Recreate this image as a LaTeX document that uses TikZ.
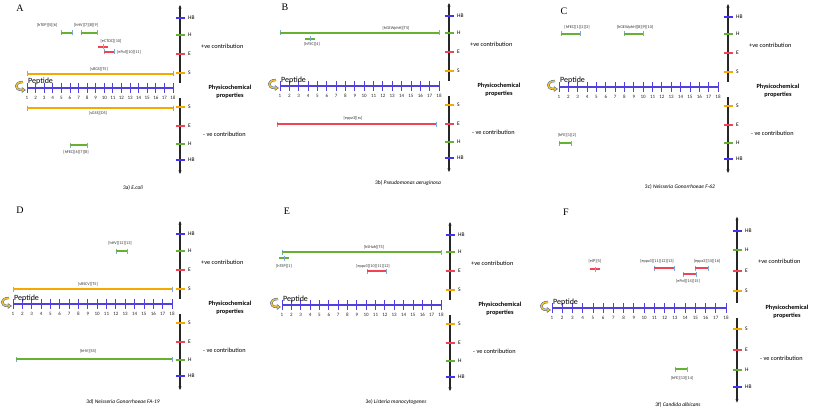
\documentclass[tikz,border=0pt]{standalone}
\usepackage{fontspec}
\setmainfont{Carlito}
\newfontfamily\letterfont{Liberation Serif}
\usetikzlibrary{arrows.meta}

\definecolor{hbcol}{HTML}{4433EE}
\definecolor{hcol}{HTML}{66B032}
\definecolor{ecol}{HTML}{F04455}
\definecolor{scol}{HTML}{F5A800}
\definecolor{pepcol}{HTML}{5040E0}
\definecolor{capcol}{HTML}{7FA8D8}
\definecolor{curlyel}{HTML}{F2C230}
\definecolor{curlblu}{HTML}{3A5FA8}

\tikzset{
  pepaxis/.style={draw=pepcol, line width=1.5pt},
  peptick/.style={draw=pepcol, line width=0.8pt},
  resnum/.style={font=\fontsize{5}{6}\selectfont, text=black!85, inner sep=0pt},
  pepname/.style={font=\fontsize{8}{9}\selectfont, anchor=base west, inner sep=0pt},
  curlarrow/.style={draw=curlblu, line width=0.45pt, double=curlyel, double distance=1.4pt},
  curlhead/.style={draw=curlblu, fill=curlyel, line width=0.4pt},
  propaxis/.style={draw=black!85, line width=1.2pt, -{Stealth[length=3.5pt,width=3pt]}},
  proptick/.style={line width=1.6pt},
  proplab/.style={font=\fontsize{5.5}{6}\selectfont, anchor=west, inner sep=0pt},
  contrib/.style={font=\fontsize{6.3}{7}\selectfont, anchor=west, inner sep=0pt},
  physlab/.style={font=\bfseries\fontsize{6.3}{7.8}\selectfont, align=center, inner sep=0pt},
  rangebar/.style={line width=1.2pt},
  barcap/.style={draw=capcol, line width=0.5pt},
  barlab/.style={font=\fontsize{4.2}{5}\selectfont, text=black!80, inner sep=0pt},
  panellab/.style={font=\letterfont\fontsize{10}{11}\selectfont, inner sep=0pt},
  capt/.style={font=\fontsize{5.5}{6.5}\selectfont, inner sep=0pt}
}

% one panel: name, x of residue 1, y of peptide axis, residue spacing, x of property axis, vertical stretch
\newcommand{\panel}[6]{%
  \begin{scope}[shift={(#2,#3)}]
    \pgfmathsetmacro{\xv}{#5-#2}
    \draw[pepaxis] (0,0) coordinate (#1start) -- ({17*#4},0) coordinate (#1end);
    \foreach \i in {1,...,18}{
      \draw[peptick] ({(\i-1)*#4},-5) -- ({(\i-1)*#4},5);
      \node[resnum] (#1r\i) at ({(\i-1)*#4},10) {\i};
    }
    \node[pepname] (#1pep) at (1,-4) {Peptide};
    \draw[curlarrow] (-4,-6) .. controls (-13,-6) and (-13,2) .. (-5,2);
    \filldraw[curlhead] (-5,-0.5) -- (-1.5,2) -- (-5,4.5) -- cycle;
    % property axis
    \draw[propaxis] (\xv,-5) -- (\xv,{-83*#6});
    \draw[propaxis] (\xv,10) -- (\xv,{86*#6});
    \foreach \lab/\col/\off [count=\idx] in {HB/hbcol/-70,H/hcol/-53,E/ecol/-34,S/scol/-15,S/scol/19,E/ecol/38,H/hcol/56,HB/hbcol/72}{
      \draw[proptick,draw=\col] ({\xv-4.5},{round(\off*#6)}) -- ({\xv+4.5},{round(\off*#6)});
      \node[proplab] (#1p\idx) at ({\xv+8},{round(\off*#6)}) {\lab};
    }
    \node[contrib] (#1plus) at ({\xv+21},{-42*#6}) {+ve contribution};
    \node[physlab] (#1phys) at ({\xv+50},4) {Physicochemical\\properties};
    \node[contrib] (#1minus) at ({\xv+23},{46*#6}) {- ve contribution};
  \end{scope}}

% range of residues: name, colour, from x, to x, y
\newcommand{\resrange}[5]{%
  \coordinate (#1a) at (#3,#5);
  \coordinate (#1b) at (#4,#5);
  \draw[barcap] ([yshift=2.5pt]#1a) -- ([yshift=-2.5pt]#1a);
  \draw[barcap] ([yshift=2.5pt]#1b) -- ([yshift=-2.5pt]#1b);
  \draw[rangebar,draw=#2] ([xshift=0.4pt]#1a) -- ([xshift=-0.4pt]#1b);}

% single residue: name, colour, x, y
\newcommand{\resspot}[4]{%
  \coordinate (#1) at (#3,#4);
  \draw[rangebar,draw=#2] ([xshift=-5pt]#1) -- ([xshift=5pt]#1);
  \draw[barcap] ([yshift=2.5pt]#1) -- ([yshift=-2.5pt]#1);}

\begin{document}
\begin{tikzpicture}[x=1pt,y=-1pt]
\useasboundingbox (0,0) rectangle (817,412);

% panels
\panel{a}{27}{88}{8.588}{180}{1}
\panel{b}{280}{86}{9.353}{449}{1}
\panel{c}{559}{87}{9.353}{728}{1}
\panel{d}{13}{304}{9.353}{180}{1}
\panel{e}{282}{305}{9.353}{450}{1}
\panel{f}{552}{308}{10.235}{737}{1.1}

% A: E.coli
\node[panellab] (la) at (20,8) {A};
\resrange{aTEP}{hcol}{61}{72}{33}
\node[barlab] (aTEPl) at (47,25) {[hTEP][5][6]};
\resrange{aHV}{hcol}{81}{97}{33}
\node[barlab] (aHVl) at (86,25) {[hHV][7][8][9]};
\resspot{aCTDC}{ecol}{103}{47}
\node[barlab] (aCTDCl) at (111,41) {[eCTDC][10]};
\resrange{aPol}{ecol}{104}{114}{52}
\node[barlab,anchor=west] (aPoll) at (117,52) {[ePol][10][11]};
\resrange{aRGS}{scol}{27}{173}{74}
\node[barlab] (aRGSl) at (99,69) {[sRGS][T5]};
\resrange{aGSS}{scol}{27}{173}{108}
\node[barlab] (aGSSl) at (98,113) {[sGSS][D5]};
\resrange{aFEC}{hcol}{70}{87}{145}
\node[barlab] (aFECl) at (76,152) {[hFEC][6][7][8]};
\node[capt] (capa) at (133,188) {3a) \textit{E.coli}};

% B: Pseudomonas aeruginosa
\node[panellab] (lb) at (285,7) {B};
\resrange{bGEW}{hcol}{280}{439}{33}
\node[barlab] (bGEWl) at (396,28) {[hGEWphH][T5]};
\resspot{bFEC}{hcol}{310}{39}
\node[barlab] (bFECl) at (312,44) {[hFEC][4]};
\resrange{bppz}{ecol}{277}{436}{124}
\node[barlab] (bppzl) at (353,118) {[eppz3][ss]};
\node[capt] (capb) at (408,183) {3b) \textit{Pseudomonas aeruginosa}};

% C: Neisseria Gonorrhoeae F-62
\node[panellab] (lc) at (564,11) {C};
\resrange{cFEC}{hcol}{561}{580}{34}
\node[barlab] (cFECl) at (577,27) {[hFEC][1][2][3]};
\resrange{cGEW}{hcol}{624}{643}{34}
\node[barlab] (cGEWl) at (635,27) {[hGEWphH][8][9][10]};
\resrange{cFE}{hcol}{559}{571}{143}
\node[barlab] (cFEl) at (567,135) {[hFE][1][2]};
\node[capt] (capc) at (680,187) {3c) \textit{Neisseria Gonorrhoeae F-62}};

% D: Neisseria Gonorrhoeae FA-19
\node[panellab] (ld) at (20,210) {D};
\resrange{dHV}{hcol}{116}{127}{251}
\node[barlab] (dHVl) at (120,243) {[hHV][12][13]};
\resrange{dRSCV}{scol}{13}{172}{289}
\node[barlab] (dRSCVl) at (88,284) {[sRSCV][T5]};
\resrange{dHVS}{hcol}{16}{172}{359}
\node[barlab] (dHVSl) at (88,351) {[hHV][S5]};
\node[capt] (capd) at (123,402) {3d) \textit{Neisseria Gonorrhoeae FA-19}};

% E: Listeria monocytogenes
\node[panellab] (le) at (287,211) {E};
\resrange{eSH}{hcol}{282}{441}{252}
\node[barlab] (eSHl) at (374,247) {[hSHah][T5]};
\resspot{eTEP}{hcol}{284}{258}
\node[barlab] (eTEPl) at (284,266) {[hTEP][1]};
\resrange{eppz}{ecol}{367}{386}{271}
\node[barlab] (eppzl) at (373,266) {[eppz3][10][11][12]};
\node[capt] (cape) at (396,402) {3e) \textit{Listeria monocytogenes}};

% F: Candida albicans
\node[panellab] (lf) at (566,212) {F};
\resspot{fIP}{ecol}{595}{269}
\node[barlab] (fIPl) at (595,261) {[eIP][5]};
\resrange{fppzA}{ecol}{654}{674}{268}
\node[barlab] (fppzAl) at (657,261) {[eppz3][11][12][13]};
\resrange{fppzB}{ecol}{695}{708}{268}
\node[barlab] (fppzBl) at (707,261) {[eppz3][15][16]};
\resrange{fPol}{ecol}{683}{696}{274}
\node[barlab] (fPoll) at (688,281) {[ePol][14][15]};
\resrange{fFE}{hcol}{675}{687}{369}
\node[barlab] (fFEl) at (682,378) {[hFE][13][14]};
\node[capt] (capf) at (678,405) {3f) \textit{Candida albicans}};
\end{tikzpicture}
\end{document}
